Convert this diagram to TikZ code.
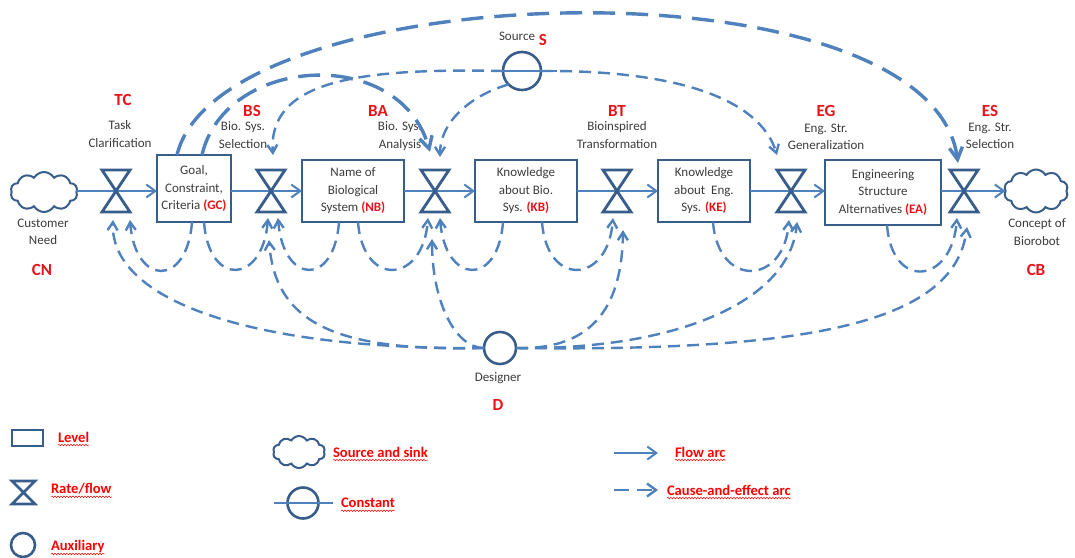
\documentclass[tikz,border=0pt]{standalone}
\usepackage{fontspec}
\setmainfont{Carlito}
\usetikzlibrary{arrows.meta,shapes.symbols,decorations.pathmorphing,calc}
\definecolor{flowblue}{HTML}{4F81BD}
\definecolor{edgeblue}{HTML}{385D8A}
\definecolor{tagred}{HTML}{E8141A}
\definecolor{txtgray}{HTML}{3C3C3C}
\newcommand{\redtag}[1]{{\color{tagred}\bfseries #1}}
\begin{document}
\begin{tikzpicture}[x=1pt,y=-1pt,
  every node/.style={inner sep=0pt, outer sep=0pt, text=txtgray, font=\fontsize{13}{17.5}\selectfont},
  lvbox/.style={draw=edgeblue, line width=2.8pt, align=center},
  valvebox/.style={minimum width=28pt, minimum height=42pt},
  valveline/.style={draw=edgeblue, line width=2.8pt, line join=miter},
  cloudsym/.style={cloud, cloud puffs=10, cloud puff arc=120, cloud ignores aspect, draw=edgeblue, line width=2pt},
  auxcirc/.style={circle, draw=edgeblue, line width=2.6pt},
  desctext/.style={align=center},
  codetext/.style={text=tagred, font=\fontsize{17}{20}\selectfont\bfseries},
  legtext/.style={anchor=west, text=red, font=\fontsize{14.6}{16}\selectfont\bfseries},
  flowarc/.style={draw=flowblue, line width=2pt, -{Straight Barb[length=9pt,width=13pt]}},
  causearc/.style={draw=flowblue, line width=2.4pt, dash pattern=on 12pt off 7pt, -{Straight Barb[length=8pt,width=10pt]}},
  bigcausearc/.style={draw=flowblue, line width=3.4pt, dash pattern=on 22pt off 11pt, -{Straight Barb[length=12pt,width=13pt]}},
  wavyline/.style={draw=red, line width=0.5pt, decorate, decoration={snake, amplitude=0.8pt, segment length=3pt}}
]
\useasboundingbox[fill=white] (0,0) rectangle (1075,557);

% sources and sinks
\node[cloudsym, minimum width=67pt, minimum height=40pt] (CN) at (44,192) {};
\node[cloudsym, minimum width=64pt, minimum height=43pt] (CB) at (1036,191) {};

% levels
\node[lvbox, minimum width=74pt, minimum height=67pt] (GC) at (194,188.5) {Goal,\\Constraint,\\Criteria \redtag{(GC)}};
\node[lvbox, minimum width=102pt, minimum height=62pt] (NB) at (353,191) {Name of\\Biological\\System \redtag{(NB)}};
\node[lvbox, minimum width=102pt, minimum height=62pt] (KB) at (526,191) {Knowledge\\about Bio.\\Sys. \redtag{(KB)}};
\node[lvbox, minimum width=92pt, minimum height=62pt] (KE) at (704,191) {Knowledge\\about\ \ Eng.\\Sys. \redtag{(KE)}};
\node[lvbox, minimum width=116pt, minimum height=65pt] (EA) at (883,192.5) {Engineering\\Structure\\Alternatives \redtag{(EA)}};

% rates
\foreach \n/\x in {TC/116,BS/271,BA/435,BT/617,EG/791,ES/964}
  \node[valvebox] (\n) at (\x,191) {};

% auxiliaries
\node[auxcirc, minimum size=38pt] (S) at (522,71) {};
\node[auxcirc, minimum size=32pt] (D) at (500,348) {};

% texts
\node[desctext] (CNtxt) at (43,232) {Customer\\Need};
\node[codetext] (CNcode) at (42,270) {CN};
\node[desctext] (CBtxt) at (1037,232) {Concept of\\Biorobot};
\node[codetext] (CBcode) at (1036,270) {CB};
\node[codetext] (TCcode) at (123,100) {TC};
\node[desctext] (TCtxt) at (120,134) {Task\\Clarification};
\node[codetext] (BScode) at (252,111) {BS};
\node[desctext] (BStxt) at (243,135) {Bio. Sys.\\Selection};
\node[codetext] (BAcode) at (378,111) {BA};
\node[desctext] (BAtxt) at (400,136) {Bio. Sys.\\Analysis};
\node[codetext] (BTcode) at (617,111) {BT};
\node[desctext] (BTtxt) at (617,135) {Bioinspired\\Transformation};
\node[codetext] (EGcode) at (826,111) {EG};
\node[desctext] (EGtxt) at (826,137) {Eng. Str.\\Generalization};
\node[codetext] (EScode) at (990,111) {ES};
\node[desctext] (EStxt) at (990,136) {Eng. Str.\\Selection};
\node (Stxt) at (517,36) {Source};
\node[codetext] (Scode) at (543,40) {S};
\node (Dtxt) at (498,378) {Designer};
\node[codetext] (Dcode) at (498,405) {D};

% cause-and-effect arcs below the chain
\draw[causearc] ($(GC.south)+(-2,0)$) .. controls +(-5,66) and +(5,66) .. ($(TC.south)+(14,8)$);
\draw[causearc] ($(GC.south)+(10,0)$) .. controls +(5,66) and +(-5,66) .. ($(BS.south)+(-3,6)$);
\draw[causearc] ($(NB.south)+(-14,0)$) .. controls +(-5,66) and +(5,66) .. ($(BS.south)+(7,6)$);
\draw[causearc] ($(NB.south)+(5,0)$) .. controls +(5,66) and +(-5,66) .. ($(BA.south)+(-7,6)$);
\draw[causearc] ($(KB.south)+(-23,0)$) .. controls +(-5,66) and +(5,66) .. ($(BA.south)+(5,6)$);
\draw[causearc] ($(KB.south)+(16,0)$) .. controls +(5,66) and +(-5,66) .. ($(BT.south)+(-4,6)$);
\draw[causearc] ($(KE.south)+(9,0)$) .. controls +(5,66) and +(-5,66) .. ($(EG.south)+(-2,8)$);
\draw[causearc] ($(EA.south)+(4,0)$) .. controls +(5,66) and +(-5,66) .. ($(ES.south)+(-7,6)$);

% designer influences
\draw[causearc] (D.west) .. controls +(-234,2) and +(-3,80) .. ($(TC.south)+(-3,8)$);
\draw[causearc] (D.west) .. controls +(-154,4) and +(6,80) .. ($(BS.south)+(-2,28)$);
\draw[causearc] (D.west) .. controls +(-29,0) and +(0,62) .. ($(BA.south)+(-3,27)$);
\draw[causearc] (D.east) .. controls +(74,2) and +(-1,80) .. ($(BT.south)+(6,18)$);
\draw[causearc] (D.east) .. controls +(164,2) and +(-7,78) .. ($(EG.south)+(6,10)$);
\draw[causearc] (D.east) .. controls +(304,4) and +(-12,93) .. ($(ES.south)+(3,15)$);

% arcs above the chain
\draw[bigcausearc] ($(GC.north)+(-17,0)$) .. controls +(43,-180) and +(-28,-208) .. ($(ES.north)+(-6,-7)$);
\draw[bigcausearc] ($(GC.north)+(8,0)$) .. controls +(23,-100) and +(-30,-107) .. ($(BA.north)+(-5,-18)$);
\draw[draw=flowblue, line width=2pt] ($(S.west)+(-6,0)$) -- ($(S.east)+(16,0)$);
\draw[causearc] (S.west) .. controls +(-143,-3) and +(-5,-75) .. ($(BS.north)+(2,-15)$);
\draw[causearc] (S.east) .. controls +(139,-1) and +(-17,-55) .. ($(EG.north)+(-14,-15)$);
\draw[causearc] (S.225) .. controls +(-35,10) and +(0,-37) .. ($(BA.north)+(5,-13)$);

% material flow
\draw[flowarc] (CN.east |- TC) -- (TC.center) -- (GC.west |- TC);
\draw[flowarc] (GC.east |- BS) -- (BS.center) -- (NB.west |- BS);
\draw[flowarc] (NB.east |- BA) -- (BA.center) -- (KB.west |- BA);
\draw[flowarc] (KB.east |- BT) -- (BT.center) -- (KE.west |- BT);
\draw[flowarc] (KE.east |- EG) -- (EG.center) -- (EA.west |- EG);
\draw[flowarc] (EA.east |- ES) -- (ES.center) -- (CB.west |- ES);

\foreach \v in {TC,BS,BA,BT,EG,ES}
  \draw[valveline] (\v.north west) -- (\v.north east) -- (\v.south west) -- (\v.south east) -- cycle;

% legend
\node[draw=edgeblue, line width=2.8pt, minimum width=31pt, minimum height=16pt] (lgLevelSym) at (27.5,438) {};
\node[valvebox, minimum width=23pt, minimum height=23pt] (lgRateSym) at (23.5,492.5) {};
\draw[valveline] (lgRateSym.north west) -- (lgRateSym.north east) -- (lgRateSym.south west) -- (lgRateSym.south east) -- cycle;
\node[auxcirc, minimum size=24pt] (lgAuxSym) at (23,545) {};
\node[cloudsym, minimum width=52pt, minimum height=32pt] (lgSrcSym) at (299,452) {};
\node[auxcirc, minimum size=31pt] (lgConstSym) at (303,503) {};
\draw[draw=flowblue, line width=2pt] ($(lgConstSym.west)+(-14,0)$) -- ($(lgConstSym.east)+(14,0)$);
\coordinate (lgFlowA) at (614,453);
\coordinate (lgFlowB) at (658,453);
\draw[flowarc] (lgFlowA) -- (lgFlowB);
\coordinate (lgCauseA) at (614,490);
\coordinate (lgCauseB) at (658,490);
\draw[causearc, dash pattern=on 15pt off 8pt, -{Straight Barb[length=9pt,width=13pt]}] (lgCauseA) -- (lgCauseB);

\node[legtext] (lgLevel) at (58,437) {Level};
\node[legtext] (lgRate) at (51,489) {Rate/flow};
\node[legtext] (lgAux) at (51,547) {Auxiliary};
\node[legtext] (lgSrc) at (333,452) {Source and sink};
\node[legtext] (lgConst) at (341,503) {Constant};
\node[legtext] (lgFlow) at (675,452) {Flow arc};
\node[legtext] (lgCause) at (667,490) {Cause-and-effect arc};
\foreach \n in {lgLevel,lgRate,lgAux,lgSrc,lgConst,lgFlow,lgCause}
  \draw[wavyline] ($(\n.base west)+(0,3)$) -- ($(\n.base east)+(0,3)$);
\end{tikzpicture}
\end{document}
